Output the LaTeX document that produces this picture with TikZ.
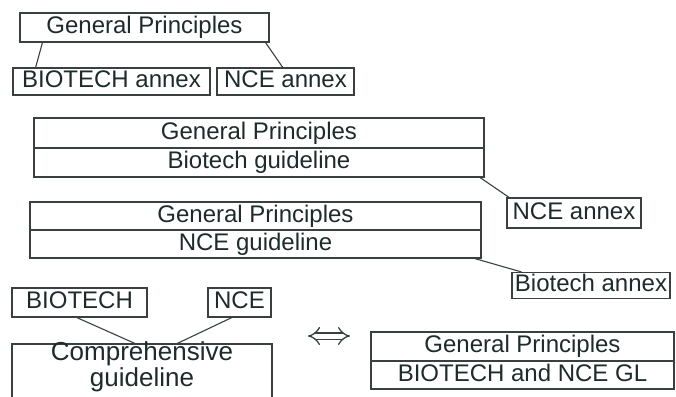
\documentclass[tikz,border=0pt]{standalone}
\usepackage{fontspec}
\setmainfont{Liberation Sans}
\usetikzlibrary{calc,arrows.meta}
\definecolor{linec}{HTML}{3A3F3F}
\definecolor{txtc}{HTML}{1E2B2B}
\begin{document}
\begin{tikzpicture}[x=1pt,y=-1pt,
  lbl/.style={draw=linec, line width=1.1pt, fill=white, text=txtc, inner sep=1pt,
    font=\fontsize{24}{21}\selectfont, text height=17pt, text depth=5pt},
  conn/.style={draw=linec, line width=1.1pt}]
\useasboundingbox (0,0) rectangle (676,396);
\clip (0,0) rectangle (676,396);

% top group
\node[lbl, minimum width=249pt, minimum height=29pt] (gp1) at (144.5,27.5) {General Principles};
\node[lbl, minimum width=197pt, minimum height=27pt] (ba1) at (111.5,81.5) {BIOTECH annex};
\node[lbl, minimum width=137pt, minimum height=27pt] (na1) at (285.5,81.5) {NCE annex};
\draw[conn] ($(gp1.south west)!0.092!(gp1.south east)$) -- ($(ba1.north west)!0.117!(ba1.north east)$);
\draw[conn] ($(gp1.south west)!0.984!(gp1.south east)$) -- ($(na1.north west)!0.48!(na1.north east)$);

% second group
\node[lbl, minimum width=450pt, minimum height=30pt] (gp2) at (259,133) {General Principles};
\node[lbl, minimum width=450pt, minimum height=29pt] (gl2) at (259,162.5) {Biotech guideline};
\node[lbl, minimum width=134pt, minimum height=30pt] (na2) at (574,213) {NCE annex};
\draw[conn] ($(gl2.south west)!0.99!(gl2.south east)$) -- ($(na2.north west)!0.02!(na2.north east)$);

% third group
\node[lbl, minimum width=451pt, minimum height=28pt] (gp3) at (255.5,216) {General Principles};
\node[lbl, minimum width=451pt, minimum height=28pt] (gl3) at (255.5,244) {NCE guideline};
\node[lbl, minimum width=158pt, minimum height=26pt] (ba2) at (591,285.5) {Biotech annex};
\draw[conn] ($(gl3.south west)!0.985!(gl3.south east)$) -- ($(ba2.north west)!0.063!(ba2.north east)$);

% bottom left group
\node[lbl, minimum width=135pt, minimum height=29pt] (bt) at (79.5,302.5) {BIOTECH};
\node[lbl, minimum width=63pt, minimum height=29pt] (nc) at (239.5,302.5) {NCE};
\node[lbl, font=\fontsize{26}{22}\selectfont, minimum width=260pt, minimum height=53pt, align=center, text height=41pt, text depth=16pt] (comp) at (142,373.5) {Comprehensive\\guideline};
\draw[conn] ($(bt.south west)!0.48!(bt.south east)$) -- ($(comp.north west)!0.473!(comp.north east)$);
\draw[conn] ($(nc.south west)!0.38!(nc.south east)$) -- ($(comp.north west)!0.635!(comp.north east)$);

% equivalence arrow
\coordinate (ar1) at (308,336);
\coordinate (ar2) at (350,336);
\draw[draw=linec, line width=1.3pt, double, double distance=5pt, {Implies}-{Implies}] (ar1) -- (ar2);

% bottom right group
\node[lbl, minimum width=303pt, minimum height=29pt] (gp4) at (522.5,346.5) {General Principles};
\node[lbl, minimum width=303pt, minimum height=28pt] (gl4) at (522.5,375) {BIOTECH and NCE GL};
\end{tikzpicture}
\end{document}
